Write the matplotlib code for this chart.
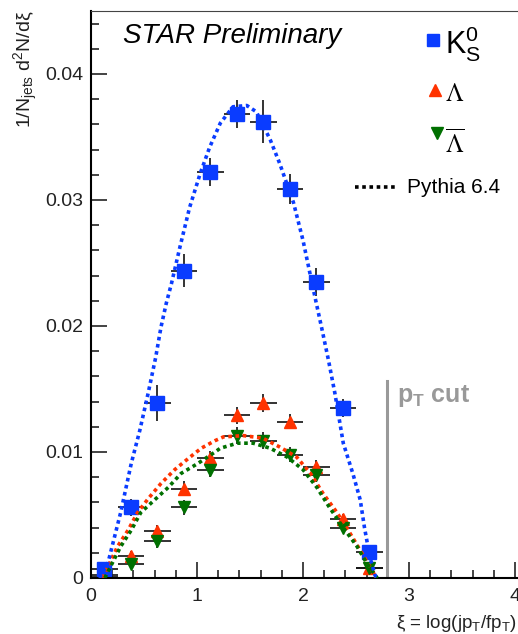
import matplotlib
matplotlib.use('Agg')
import matplotlib.pyplot as plt
from matplotlib.ticker import MultipleLocator, FuncFormatter

plt.rcParams['font.family'] = ['Liberation Sans', 'DejaVu Sans']
plt.rcParams['mathtext.fontset'] = 'custom'
plt.rcParams['mathtext.rm'] = 'Liberation Sans'
plt.rcParams['mathtext.it'] = 'Liberation Sans:italic'
plt.rcParams['mathtext.bf'] = 'Liberation Sans:bold'

# data (xi bins of width 0.25)
xi = [0.125, 0.375, 0.625, 0.875, 1.125, 1.375, 1.625, 1.875, 2.125, 2.375, 2.625]
xi_err = [0.125] * 11

k0s = [0.0007, 0.0056, 0.0139, 0.0244, 0.0322, 0.0368, 0.0362, 0.0309, 0.0235, 0.0135, 0.0021]
k0s_err = [0.0003, 0.0007, 0.0014, 0.0013, 0.0011, 0.0011, 0.0017, 0.0012, 0.0011, 0.0007, 0.0003]

lam = [0.0002, 0.00175, 0.0037, 0.0071, 0.0095, 0.0129, 0.0139, 0.0124, 0.0088, 0.0047, 0.0008]
lam_err = [0.0001, 0.0004, 0.0005, 0.0006, 0.0006, 0.0007, 0.0007, 0.0006, 0.0006, 0.0004, 0.0002]

alam = [0.0001, 0.0011, 0.0029, 0.0056, 0.0086, 0.0113, 0.0109, 0.0098, 0.0082, 0.0040, 0.0008]
alam_err = [0.0001, 0.0004, 0.0005, 0.0006, 0.0006, 0.0007, 0.0007, 0.0006, 0.0006, 0.0004, 0.0002]

# Pythia 6.4 curves
py_k0s_x = [0.08, 0.16, 0.28, 0.38, 0.46, 0.54, 0.61, 0.66, 0.71, 0.76, 0.84, 0.93, 1.03,
            1.12, 1.22, 1.34, 1.47, 1.56, 1.69, 1.78, 1.91, 2.0, 2.1, 2.18, 2.24, 2.30,
            2.35, 2.38, 2.47, 2.54, 2.58, 2.63, 2.68, 2.71]
py_k0s_y = [0.0, 0.0012, 0.0052, 0.0091, 0.0117, 0.0147, 0.0175, 0.0199, 0.0218, 0.0234,
            0.0263, 0.0294, 0.0321, 0.0342, 0.0361, 0.0374, 0.0375, 0.0370, 0.0348, 0.0329,
            0.0298, 0.0268, 0.0228, 0.0197, 0.0173, 0.0147, 0.0122, 0.0107, 0.0083, 0.0062,
            0.0040, 0.0017, 0.0002, 0.0]

py_lam_x = [0.11, 0.25, 0.35, 0.44, 0.54, 0.66, 0.79, 0.92, 1.04, 1.17, 1.25, 1.44, 1.62,
            1.78, 1.94, 2.07, 2.19, 2.32, 2.44, 2.54, 2.63, 2.69]
py_lam_y = [0.0, 0.0025, 0.0038, 0.0052, 0.0063, 0.0075, 0.0086, 0.0095, 0.0103, 0.0109,
            0.0112, 0.0113, 0.0111, 0.0104, 0.0096, 0.0083, 0.0067, 0.0052, 0.0036, 0.0022,
            0.0009, 0.0]

py_alam_x = [0.13, 0.28, 0.38, 0.47, 0.60, 0.73, 0.85, 1.01, 1.17, 1.22, 1.38, 1.53, 1.69,
             1.85, 2.0, 2.13, 2.25, 2.38, 2.51, 2.60, 2.70]
py_alam_y = [0.0, 0.0025, 0.0038, 0.0052, 0.0062, 0.0072, 0.0083, 0.0091, 0.0100, 0.0103,
             0.0107, 0.0107, 0.0103, 0.0096, 0.0086, 0.0072, 0.0056, 0.0040, 0.0025, 0.0012, 0.0]

pt_cut = 2.79
pt_cut_top = 0.0156

blue = '#0a3cff'
red = '#ff3300'
green = '#007000'
dots = (0, (1, 1))

W, H = 518, 634
fig = plt.figure(figsize=(W / 100, H / 100), dpi=100)
ax = fig.add_axes([91 / W, 56 / H, 477 / W, 567 / H])

ebkw = dict(ls='none', ecolor='#111111', elinewidth=1.2, capsize=0)
ax.errorbar(xi, lam, yerr=lam_err, xerr=xi_err, marker='^', ms=9, color=red, mec=red, **ebkw)
ax.errorbar(xi, alam, yerr=alam_err, xerr=xi_err, marker='v', ms=9, color=green, mec=green, **ebkw)
ax.errorbar(xi, k0s, yerr=k0s_err, xerr=xi_err, marker='s', ms=9.5, color=blue, mec=blue, **ebkw)

ax.plot(py_lam_x, py_lam_y, color=red, lw=2.6, ls=dots, zorder=5)
ax.plot(py_alam_x, py_alam_y, color=green, lw=2.6, ls=dots, zorder=5)
ax.plot(py_k0s_x, py_k0s_y, color=blue, lw=2.6, ls=dots, zorder=5)

ax.plot([pt_cut, pt_cut], [0, pt_cut_top], color='#999999', lw=2.2)
ax.text(pt_cut + 0.095, 0.0140, r'p$_{\mathbf{T}}$ cut', color='#999999',
        fontsize=18, fontweight='bold', va='baseline')

ax.set_xlim(0, 4.5)
ax.set_ylim(0, 0.045)
ax.xaxis.set_major_locator(MultipleLocator(1))
ax.xaxis.set_minor_locator(MultipleLocator(0.2))
ax.yaxis.set_major_locator(MultipleLocator(0.01))
ax.yaxis.set_minor_locator(MultipleLocator(0.002))
ax.yaxis.set_major_formatter(FuncFormatter(lambda v, p: '0' if abs(v) < 1e-9 else '%.2f' % v))
ax.xaxis.set_major_formatter(FuncFormatter(lambda v, p: '%d' % round(v)))
ax.tick_params(which='both', direction='in', top=False, right=False, width=1.1,
               color='#111111', labelcolor='#222222', labelsize=14)
ax.tick_params(which='major', length=11.5)
ax.tick_params(which='minor', length=6)
ax.tick_params(axis='y', pad=5.5)
ax.tick_params(axis='x', pad=7)
ax.spines['left'].set_linewidth(1.5)
ax.spines['bottom'].set_linewidth(1.5)
ax.spines['top'].set_linewidth(0.8)
ax.spines['top'].set_color('#444444')

# titles
fig.text(123 / W, 1 - 43 / H, 'STAR Preliminary', fontsize=20, style='italic', va='baseline')
fig.text(517 / W, 1 - 628 / H, r'ξ = log(jp$_{\mathrm{T}}$/fp$_{\mathrm{T}}$)',
         fontsize=13.5, ha='right', va='baseline', color='#222222')
fig.text(26 / W, 1 - 10 / H, r'1/N$_{\mathrm{jets}}$ d$^{2}$N/dξ', fontsize=14,
         rotation=90, ha='center', va='top', color='#222222')

# legend
ft = fig.transFigure
ax.plot([433 / W], [1 - 40 / H], 's', color=blue, ms=9, transform=ft, clip_on=False)
fig.text(445 / W, 1 - 44 / H, r'$\mathrm{K}^{0}_{\mathrm{S}}$', fontsize=22, va='center')
ax.plot([435 / W], [1 - 90 / H], '^', color=red, ms=8, transform=ft, clip_on=False)
fig.text(445 / W, 1 - 94 / H, r'$\Lambda$', math_fontfamily='stix', fontsize=18, va='center')
ax.plot([437 / W], [1 - 133 / H], 'v', color=green, ms=8, transform=ft, clip_on=False)
fig.text(445 / W, 1 - 143 / H, r'$\overline{\Lambda}$', math_fontfamily='stix', fontsize=18,
         va='center')
ax.plot([355 / W, 397 / W], [1 - 187 / H] * 2, color='black', lw=2.6, ls=dots,
        transform=ft, clip_on=False)
fig.text(407 / W, 1 - 188 / H, 'Pythia 6.4', fontsize=15, va='center')

fig.savefig('out.png', dpi=100)
